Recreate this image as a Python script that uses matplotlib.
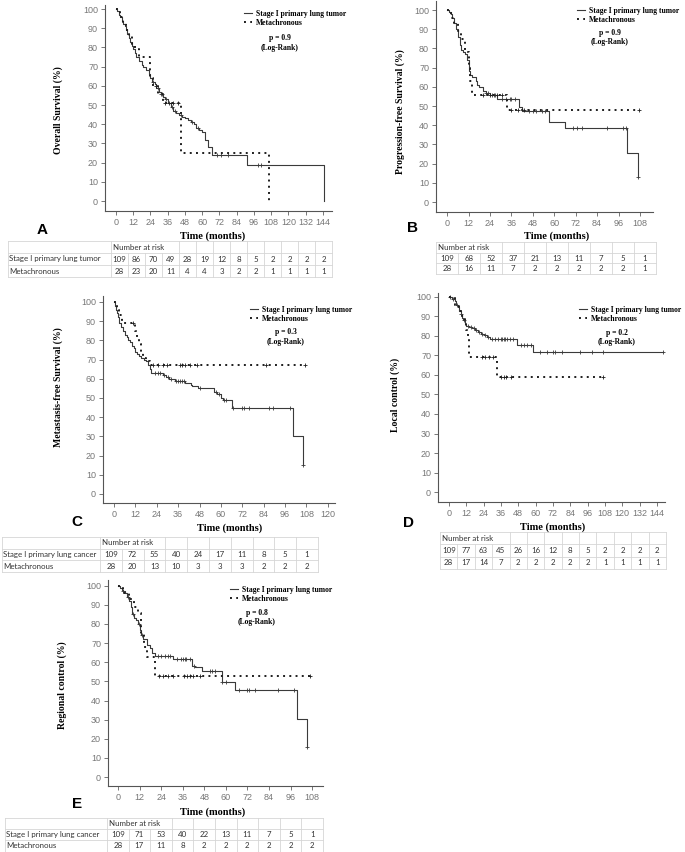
import numpy as np
import matplotlib.pyplot as plt

# ---------------- data ----------------
# A: overall survival
A_stage_t = [0, 1, 2, 3, 4, 5, 6, 7, 8, 9, 10, 11, 12, 13, 14, 16, 18, 19, 21, 23, 24, 25, 27, 28,
             30, 31, 33, 34, 36, 38, 40, 42, 44, 46, 48, 50, 52, 54, 56, 58, 60, 62, 64, 67, 91, 145]
A_stage_s = [100, 99, 97, 96, 94, 92, 91, 89, 87, 85, 83, 81, 79, 77, 75, 73, 71, 70, 68, 66, 64, 62, 61, 59,
             57, 56, 54, 53, 51, 49, 47, 46, 45, 44, 43, 42, 41, 40, 38, 37, 36, 32, 28, 24, 19, 0]
A_stage_cens = [26, 29, 31, 32, 35, 39, 41, 45, 53, 57, 70, 73, 78, 99, 101]
A_meta_t = [0, 3, 5, 7, 9, 11, 13, 16, 24, 26, 29, 33, 45.5, 106.5]
A_meta_s = [100, 96, 93, 89, 86, 82, 79, 75, 64, 60, 56, 51, 25, 0]
A_meta_cens = [28, 34, 37, 40, 43]
A_risk_stage = [109, 86, 70, 49, 28, 19, 12, 8, 5, 2, 2, 2, 2]
A_risk_meta = [28, 23, 20, 11, 4, 4, 3, 2, 2, 1, 1, 1, 1]

# B: progression-free survival
B_stage_t = [0, 1, 2, 3, 4, 5, 6, 7, 8, 9, 10, 11, 12, 13, 14, 16, 17, 18, 20, 22, 24, 28,
             40, 42, 57, 66, 101, 106.8]
B_stage_s = [100, 99, 98, 96, 93, 90, 86, 82, 79, 78, 77, 74, 68, 66, 65, 63, 61, 60, 58, 57, 56, 53.5,
             49.5, 47.6, 41.8, 38.6, 25.7, 12.8]
B_stage_cens = [22, 23, 25, 26, 27, 31, 33, 35, 36, 38, 46, 48, 50, 53, 55,
                70.7, 72.6, 75.4, 89.4, 98.7, 100.2, 106.8]
B_meta_t = [0, 2, 4, 6, 8, 10, 12, 13, 14, 33.4, 107.6]
B_meta_s = [100, 96, 93, 89, 85, 78, 70, 63, 55.7, 48, 48]
B_meta_cens = [20, 24, 28, 31, 36, 39.7, 43, 107.6]
B_risk_stage = [109, 68, 52, 37, 21, 13, 11, 7, 5, 1]
B_risk_meta = [28, 16, 11, 7, 2, 2, 2, 2, 2, 1]

# C: metastasis-free survival
C_stage_t = [0, 0.5, 1, 1.5, 2, 3, 4, 5, 6, 7, 8, 9, 10, 11, 12, 13, 14, 15, 17, 18,
             19, 20, 21, 27.5, 29, 31, 34, 40, 43, 44, 47, 56, 58, 60, 61, 66, 100.6, 106]
C_stage_s = [100, 98, 96, 94, 92, 89, 87, 85, 83, 82, 80, 79, 77, 76, 74, 73, 72, 71, 70, 69,
             67, 65, 63, 62, 61, 60, 59, 58, 57, 56, 55, 53, 52, 50, 49, 45, 30, 15]
C_stage_cens = [23, 24.5, 26, 28, 30, 32, 35, 36, 37, 38, 39, 48, 57, 59, 61.5, 63,
                67, 72, 73, 76, 87, 89, 99, 106]
C_meta_t = [0, 1.5, 3, 4.5, 12, 13, 14, 15, 16, 18, 20, 107]
C_meta_s = [100, 96, 93, 89, 85, 81, 78, 74, 71, 69, 67, 67]
C_meta_cens = [10.4, 22, 24.9, 27.7, 29.6, 37, 38, 40, 42.8, 46.5, 85, 107]
C_risk_stage = [109, 72, 55, 40, 24, 17, 11, 8, 5, 1]
C_risk_meta = [28, 20, 13, 10, 3, 3, 3, 2, 2, 2]

# D: local control
D_stage_t = [0, 2, 4, 5, 6, 7, 8, 9, 10, 11, 12, 14, 16, 18, 20, 22, 24, 26, 28.4, 46.9, 58, 148.4]
D_stage_s = [100, 99, 98, 96, 95, 93, 91, 89, 88, 86, 85, 84.5, 84, 83, 82, 81, 80.5, 79.7, 78.3,
             75.4, 71.6, 71.6]
D_stage_cens = [1, 3, 5.5, 8.5, 10.5, 13, 15, 17, 19, 21, 23, 25, 27, 30, 32, 34, 36, 37, 38, 39,
                40, 42, 44, 49.6, 52, 54, 56.5, 63, 67.7, 72.2, 73.4, 78, 90.7, 98.8, 106.9, 148.4]
D_meta_t = [0, 4, 7, 9, 11, 12, 13, 14, 33, 106.9]
D_meta_s = [100, 96, 93, 90, 86, 83, 79, 69, 59, 59]
D_meta_cens = [22.6, 24.9, 27.9, 30.7, 36.2, 38, 39.6, 43, 106.9]
D_risk_stage = [109, 77, 63, 45, 26, 16, 12, 8, 5, 2, 2, 2, 2]
D_risk_meta = [28, 17, 14, 7, 2, 2, 2, 2, 2, 1, 1, 1, 1]

# E: regional control
E_stage_t = [0, 1, 2, 3, 4, 5, 6, 7, 8, 9, 10, 11, 12, 13, 14, 16, 18, 19, 20.6, 30.8,
             41, 43, 46.6, 57.7, 65.1, 99.8, 105]
E_stage_s = [100, 99, 98, 97, 96, 94, 92, 89, 85, 83, 82, 80, 77, 74, 72, 69, 67.4, 65, 63.4, 61.8,
             58, 57.5, 55.5, 49.5, 45.3, 30.5, 15.5]
E_stage_cens = [3, 5.5, 8.5, 11.5, 13.5, 22, 24, 26, 28, 29, 33, 35, 36, 37, 38, 40, 42,
                51, 52, 54, 58, 60, 67, 72, 73, 76, 89, 98, 105]
E_meta_t = [0, 3, 6, 9, 11, 13, 14.5, 16, 20.6, 106.5]
E_meta_s = [100, 96, 93, 89, 86, 75, 68, 62.5, 53, 53]
E_meta_cens = [22.5, 25.2, 28, 30.8, 36.4, 38.2, 40.1, 41.9, 45.7, 106.5]
E_risk_stage = [109, 71, 53, 40, 22, 13, 11, 7, 5, 1]
E_risk_meta = [28, 17, 11, 8, 2, 2, 2, 2, 2, 2]

y_titles = ["Overall Survival (%)", "Progression-free Survival (%)", "Metastasis-free Survival (%)",
            "Local control (%)", "Regional control (%)"]
p_values = ["p = 0.9", "p = 0.9", "p = 0.3", "p = 0.2", "p = 0.8"]
panel_letters = ["A", "B", "C", "D", "E"]
x_max = [144, 108, 120, 144, 108]
legend_labels = ["Stage I primary lung tumor", "Metachronous"]
risk_labels = ["Stage I primary lung tumor", None, "Stage I primary lung cancer", None,
               "Stage I primary lung cancer"]

# ---------------- figure ----------------
W, H = 685, 852
fig = plt.figure(figsize=(W / 100, H / 100), dpi=100)
fig.patch.set_facecolor("white")

SERIF = "Liberation Serif"
SANS = "Liberation Sans"
LINE = "#3a3a3a"
DOT = "#1e1e1e"


def fx(x):
    return x / W


def fy(y):
    return 1 - y / H


def step_value(t, s, c):
    i = np.searchsorted(t, c, side="right") - 1
    return np.asarray(s)[i]


# pixel layout: spine box, data limits, label/legend positions
layout = [
    dict(box=(105, 332, 5, 211), xlim=(-7.65, 150.3), ylim=(-5.2, 102.1),
         ylab=(58, 110), xlab=(213, 236), letter=(42, 230), leg=(244, 10), p=(280, 38)),
    dict(box=(436, 653, 1, 212), xlim=(-6.2, 115.3), ylim=(-5.2, 104.7),
         ylab=(400, 112), xlab=(557, 236), letter=(412, 228), leg=(577, 7), p=(610, 33)),
    dict(box=(103, 335, 296, 503), xlim=(-6.2, 124), ylim=(-4.7, 103.1),
         ylab=(58, 387), xlab=(230, 528), letter=(77, 522), leg=(250, 306), p=(286, 332)),
    dict(box=(438, 665, 293, 502), xlim=(-7.6, 149.6), ylim=(-5.1, 102),
         ylab=(395, 395), xlab=(553, 527), letter=(408, 523), leg=(579, 306), p=(617, 333)),
    dict(box=(108, 323, 580, 786), xlim=(-5.6, 114), ylim=(-4.7, 103),
         ylab=(62, 685), xlab=(213, 812), letter=(77, 804), leg=(230, 586), p=(257, 613)),
]

curves = [
    (A_stage_t, A_stage_s, A_stage_cens, A_meta_t, A_meta_s, A_meta_cens),
    (B_stage_t, B_stage_s, B_stage_cens, B_meta_t, B_meta_s, B_meta_cens),
    (C_stage_t, C_stage_s, C_stage_cens, C_meta_t, C_meta_s, C_meta_cens),
    (D_stage_t, D_stage_s, D_stage_cens, D_meta_t, D_meta_s, D_meta_cens),
    (E_stage_t, E_stage_s, E_stage_cens, E_meta_t, E_meta_s, E_meta_cens),
]

for k in range(5):
    L = layout[k]
    left, right, top, bottom = L["box"]
    ax = fig.add_axes([fx(left), fy(bottom), (right - left) / W, (bottom - top) / H])
    ax.patch.set_alpha(0)
    st, ss, sc, mt, ms, mc = curves[k]

    solid, = ax.step(st, ss, where="post", color=LINE, lw=0.8)
    ax.plot(sc, step_value(st, ss, sc), "+", ms=3.5, mew=0.6, color=LINE)
    dotted, = ax.step(mt, ms, where="post", color=DOT, lw=1.4, linestyle=(0, (1, 2.2)))
    ax.plot(mc, step_value(mt, ms, mc), "+", ms=3.5, mew=0.6, color=DOT)

    ax.set_xlim(*L["xlim"])
    ax.set_ylim(*L["ylim"])
    ax.set_xticks(np.arange(0, x_max[k] + 1, 12))
    ax.set_yticks(np.arange(0, 101, 10))
    for side in ("top", "right"):
        ax.spines[side].set_visible(False)
    for side in ("left", "bottom"):
        ax.spines[side].set_color("#555555")
        ax.spines[side].set_linewidth(0.8)
    ax.tick_params(direction="out", length=3, width=0.7, colors="#777777",
                   labelsize=6.5, pad=2)
    for lab in ax.get_xticklabels() + ax.get_yticklabels():
        lab.set_family(SANS)

    fig.text(fx(L["ylab"][0]), fy(L["ylab"][1]), y_titles[k], rotation=90, ha="center",
             va="center", fontsize=7, fontweight="bold", family=SERIF)
    fig.text(fx(L["xlab"][0]), fy(L["xlab"][1]), "Time (months)", ha="center", va="center",
             fontsize=7.5, fontweight="bold", family=SERIF)
    fig.text(fx(L["letter"][0]), fy(L["letter"][1]), panel_letters[k], ha="center",
             va="center", fontsize=11, fontweight="bold", family=SANS)

    ax.legend([solid, dotted], legend_labels, loc="upper left",
              bbox_to_anchor=(fx(L["leg"][0]), fy(L["leg"][1])), bbox_transform=fig.transFigure,
              frameon=False, handlelength=1.0, handletextpad=0.6, labelspacing=0.15,
              borderpad=0, borderaxespad=0,
              prop=dict(family=SERIF, weight="bold", size=5.5))
    fig.text(fx(L["p"][0]), fy(L["p"][1]), p_values[k], ha="center", va="center",
             fontsize=5.5, fontweight="bold", family=SERIF)
    fig.text(fx(L["p"][0]), fy(L["p"][1] + 9.5), "(Log-Rank)", ha="center", va="center",
             fontsize=5.5, fontweight="bold", family=SERIF)

# ---------------- number-at-risk tables ----------------
ov = fig.add_axes([0, 0, 1, 1])
ov.set_xlim(0, W)
ov.set_ylim(H, 0)
ov.axis("off")
ov.patch.set_alpha(0)

GRID = "#d6d6d6"
TXT = "#333333"
TFS = 5.7

tables = [
    dict(x0=8, xl=111, xr=332, y0=241, rh=12.0, span=4),
    dict(x0=436, xl=436, xr=656, y0=242, rh=10.7, span=3),
    dict(x0=2, xl=100, xr=318, y0=537, rh=11.7, span=3),
    dict(x0=440, xl=440, xr=666, y0=532, rh=12.3, span=4),
    dict(x0=5, xl=107, xr=323, y0=818, rh=11.2, span=3),
]
risk_rows = [(A_risk_stage, A_risk_meta), (B_risk_stage, B_risk_meta), (C_risk_stage, C_risk_meta),
             (D_risk_stage, D_risk_meta), (E_risk_stage, E_risk_meta)]

for k, T in enumerate(tables):
    stage, meta = risk_rows[k]
    n = len(stage)
    cw = (T["xr"] - T["xl"]) / n
    edges = [T["xl"] + i * cw for i in range(n + 1)]
    ys = [T["y0"] + r * T["rh"] for r in range(4)]
    for y in ys:
        ov.plot([T["x0"], T["xr"]], [y, y], color=GRID, lw=0.6)
    if T["xl"] > T["x0"]:
        ov.plot([T["x0"], T["x0"]], [ys[0], ys[3]], color=GRID, lw=0.6)
    for i, x in enumerate(edges):
        if 0 < i < T["span"]:
            ov.plot([x, x], [ys[1], ys[3]], color=GRID, lw=0.6)
        else:
            ov.plot([x, x], [ys[0], ys[3]], color=GRID, lw=0.6)
    ov.text(T["xl"] + 2, (ys[0] + ys[1]) / 2, "Number at risk", ha="left", va="center",
            fontsize=TFS, family="Lato", color=TXT)
    if risk_labels[k]:
        ov.text(T["x0"] + 1.5, (ys[1] + ys[2]) / 2, risk_labels[k], ha="left", va="center",
                fontsize=TFS, family="Lato", color=TXT)
        ov.text(T["x0"] + 1.5, (ys[2] + ys[3]) / 2, legend_labels[1], ha="left", va="center",
                fontsize=TFS, family="Lato", color=TXT)
    for i in range(n):
        xc = (edges[i] + edges[i + 1]) / 2
        ov.text(xc, (ys[1] + ys[2]) / 2, str(stage[i]), ha="center", va="center",
                fontsize=TFS, family="Lato", color=TXT)
        ov.text(xc, (ys[2] + ys[3]) / 2, str(meta[i]), ha="center", va="center",
                fontsize=TFS, family="Lato", color=TXT)

fig.savefig("out.png", dpi=100)
